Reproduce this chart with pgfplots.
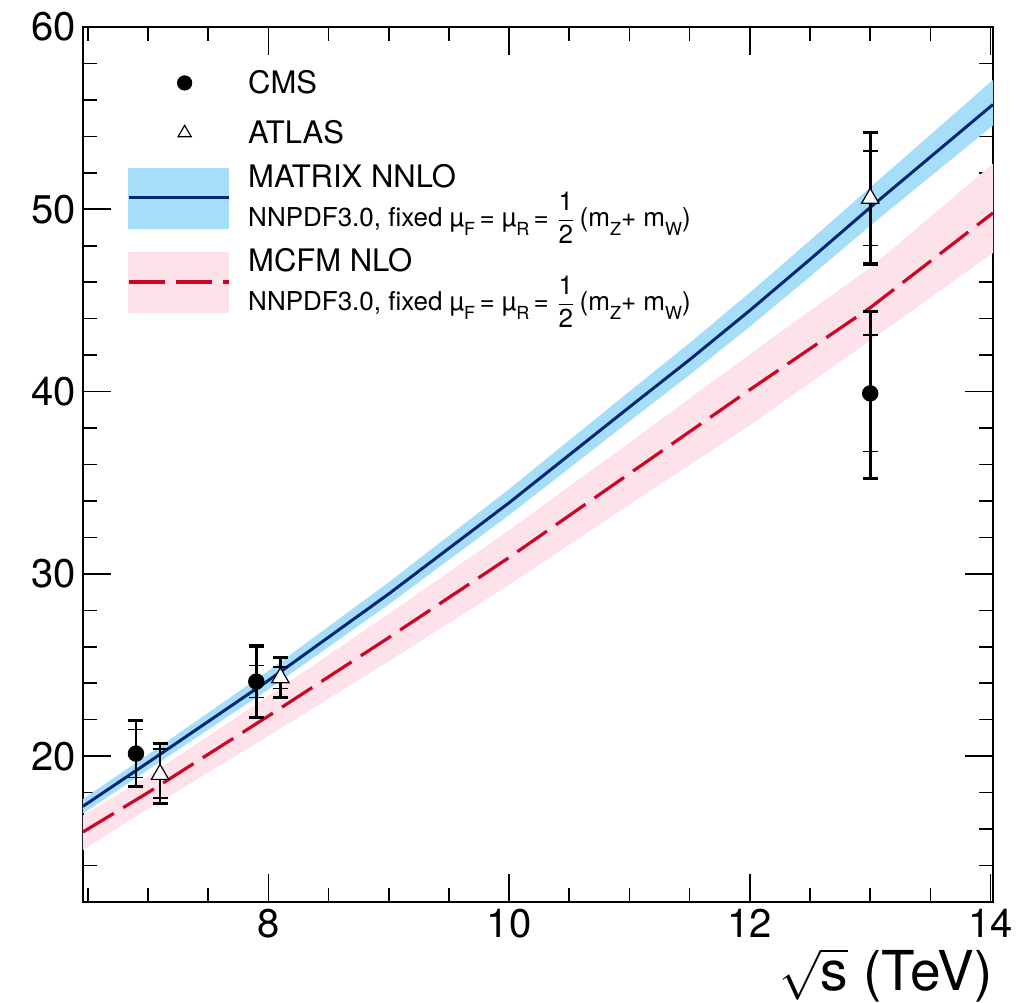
\documentclass[border=0pt]{standalone}
\usepackage{fontspec}
\setmainfont{TeX Gyre Heros}
\usepackage{pgfplots}
\pgfplotsset{compat=1.18}
\usepackage{pgfplotstable}
\usepgfplotslibrary{fillbetween}

\definecolor{bandblue}{RGB}{166,222,250}
\definecolor{bandpink}{RGB}{253,226,233}
\definecolor{nnloline}{RGB}{0,38,118}
\definecolor{nloline}{RGB}{208,4,38}

% MATRIX NNLO prediction: central value and scale band
\pgfplotstableread{
x      c      hi     lo
6.46   17.25  17.65  16.85
7.0    19.65  20.08  19.25
8.0    24.15  24.68  23.66
9.0    28.90  29.54  28.32
10.0   33.90  34.65  33.22
11.0   39.15  40.01  38.37
11.5   41.75  42.67  40.92
12.0   44.45  45.43  43.56
12.5   47.25  48.29  46.30
13.0   50.10  51.20  49.10
14.02  55.75  57.10  54.60
}\nnlo

% MCFM NLO prediction: central value and scale band
\pgfplotstableread{
x      c      hi     lo
6.46   15.84  16.75  14.85
7.0    18.00  18.90  17.10
8.0    22.20  23.30  21.10
9.0    26.50  27.80  25.20
10.0   30.90  32.40  29.40
11.0   35.50  37.20  33.80
12.0   40.10  42.05  38.15
13.0   44.60  46.80  42.80
14.02  49.80  52.50  47.60
}\nlo

% measurements: value, statistical and total uncertainties
\pgfplotstableread{
x     y      sp    sm    tp    tm
6.9   20.14  1.32  1.30  1.80  1.80
7.9   24.09  0.87  0.87  1.95  1.95
13.0  39.90  3.20  3.20  4.50  4.65
}\cms

\pgfplotstableread{
x     y      sp    sm    tp    tm
7.1   19.00  1.40  1.30  1.70  1.60
8.1   24.30  0.60  0.60  1.10  1.10
13.0  50.60  2.60  2.60  3.60  3.60
}\atlas

\newcommand\sub[1]{\raisebox{-0.6ex}{\fontsize{9}{10}\selectfont #1}}
\newcommand\half{$\displaystyle{\hbox{1}\over\hbox{2}}$}
\newcommand\scalechoice{NNPDF3.0, fixed µ\sub{F}\,= µ\sub{R}\,= \half\,(m\sub{Z}+ m\sub{W})}
\newcommand\twoline[1]{\raisebox{3.5pt}[20pt][20pt]{\begin{tabular}{@{}l@{}}#1\\[-3pt]{\fontsize{13}{15}\selectfont\scalechoice}\end{tabular}}}

\begin{document}
\begin{tikzpicture}
\begin{axis}[
  scale only axis,
  width=455pt, height=437.5pt,
  xmin=6.46, xmax=14.02, ymin=12, ymax=60,
  xtick={8,10,12,14},
  minor xtick={6.5,7,7.5,8.5,9,9.5,10.5,11,11.5,12.5,13,13.5},
  ytick={20,30,40,50,60},
  minor ytick={12,14,16,18,22,24,26,28,32,34,36,38,42,44,46,48,52,54,56,58},
  tick align=inside, tick pos=both,
  major tick length=14pt, minor tick length=7pt,
  every tick/.append style={black, line width=0.8pt},
  axis line style={line width=1pt},
  ticklabel style={font=\fontsize{20}{22}\selectfont},
  /pgf/number format/assume math mode=true,
  xlabel={$\sqrt{\hbox{s}}$ (TeV)},
  xlabel style={font=\fontsize{27.5}{31}\selectfont, at={(rel axis cs:1,0)}, anchor=base east, yshift=-44.5pt, inner sep=0pt},
  legend cell align=left,
  legend style={draw=none, fill=none, at={(0.0484,0.9646)}, anchor=north west,
    inner sep=0pt, outer sep=0pt, row sep=0pt, column sep=9pt,
    nodes={inner sep=0pt, anchor=west},
    font=\fontsize{15.5}{18.5}\selectfont},
]
% prediction bands
\addplot[name path=nloup, draw=none, forget plot] table[x=x, y=hi]{\nlo};
\addplot[name path=nlolo, draw=none, forget plot] table[x=x, y=lo]{\nlo};
\addplot[bandpink, forget plot] fill between[of=nloup and nlolo];
\addplot[name path=nnloup, draw=none, forget plot] table[x=x, y=hi]{\nnlo};
\addplot[name path=nnlolo, draw=none, forget plot] table[x=x, y=lo]{\nnlo};
\addplot[bandblue, forget plot] fill between[of=nnloup and nnlolo];
% central predictions
\addplot[nloline, line width=1.6pt, dash pattern=on 18pt off 5.5pt, forget plot] table[x=x, y=c]{\nlo};
\addplot[nnloline, line width=1.5pt, forget plot] table[x=x, y=c]{\nnlo};

% error bars: total (thick caps) and statistical (thin caps)
\addplot[only marks, mark=none, forget plot,
  error bars/.cd, y dir=both, y explicit,
  error bar style={black, line width=1.3pt},
  error mark options={black, rotate=90, mark size=3.75pt, line width=1.6pt}]
  table[x=x, y=y, y error plus=tp, y error minus=tm]{\cms};
\addplot[only marks, mark=none, forget plot,
  error bars/.cd, y dir=both, y explicit,
  error bar style={black, line width=1.3pt},
  error mark options={black, rotate=90, mark size=3.75pt, line width=0.7pt}]
  table[x=x, y=y, y error plus=sp, y error minus=sm]{\cms};
\addplot[only marks, mark=none, forget plot,
  error bars/.cd, y dir=both, y explicit,
  error bar style={black, line width=1.3pt},
  error mark options={black, rotate=90, mark size=3.75pt, line width=1.6pt}]
  table[x=x, y=y, y error plus=tp, y error minus=tm]{\atlas};
\addplot[only marks, mark=none, forget plot,
  error bars/.cd, y dir=both, y explicit,
  error bar style={black, line width=1.3pt},
  error mark options={black, rotate=90, mark size=3.75pt, line width=0.7pt}]
  table[x=x, y=y, y error plus=sp, y error minus=sm]{\atlas};

% central values
\addplot[only marks, mark=*, mark size=3.9pt, black, forget plot] table[x=x, y=y]{\cms};
\addplot[only marks, mark=triangle*, mark size=5pt, mark options={fill=white, draw=black, line width=0.6pt}, forget plot] table[x=x, y=y]{\atlas};

% legend
\addlegendimage{legend image code/.code={
  \path[draw=none, fill=none] (0pt,-12.5pt) rectangle (50pt,12.5pt);
  \draw[black, fill=black] plot[only marks, mark=*, mark size=3.6pt] coordinates {(28pt,0pt)};}}
\addlegendentry{CMS}
\addlegendimage{legend image code/.code={
  \path[draw=none, fill=none] (0pt,-12.5pt) rectangle (50pt,12.5pt);
  \draw[black, fill=white, line width=0.6pt] plot[only marks, mark=triangle*, mark size=3.8pt] coordinates {(28pt,0pt)};}}
\addlegendentry{ATLAS}
\addlegendimage{legend image code/.code={
  \path[draw=none, fill=none] (0pt,-21pt) rectangle (50pt,20pt);
  \fill[bandblue] (0pt,-15pt) rectangle (50pt,15pt);
  \draw[nnloline, line width=1.5pt] (0pt,0pt) -- (50pt,0pt);}}
\addlegendentry{\twoline{MATRIX NNLO}}
\addlegendimage{legend image code/.code={
  \path[draw=none, fill=none] (0pt,-21pt) rectangle (50pt,21pt);
  \fill[bandpink] (0pt,-15pt) rectangle (50pt,15pt);
  \draw[nloline, line width=1.6pt, dash pattern=on 18pt off 5.5pt] (0pt,0pt) -- (50pt,0pt);}}
\addlegendentry{\twoline{MCFM NLO}}
\end{axis}
\pgfresetboundingbox
\path ([shift={(-41.5pt,-50.5pt)}]current axis.south west) rectangle ([shift={(16pt,13.5pt)}]current axis.north east);
\end{tikzpicture}
\end{document}
